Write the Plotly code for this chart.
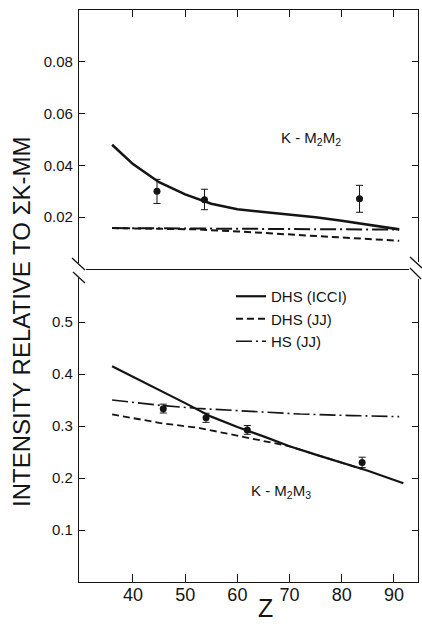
import plotly.graph_objects as go

# ---------------- data ----------------
# Top panel: K - M2M2
z_top_icci = [36, 40, 45, 50, 55, 60, 65, 70, 75, 80, 85, 91]
y_top_icci = [0.048, 0.0405, 0.0335, 0.0288, 0.0252, 0.0231, 0.0220, 0.0210, 0.0200, 0.0186, 0.0170, 0.0153]
z_top_jj = [36, 45, 52, 60, 70, 80, 91]
y_top_jj = [0.0158, 0.0156, 0.0153, 0.0145, 0.0134, 0.0122, 0.0109]
z_top_hs = [36, 60, 91]
y_top_hs = [0.0158, 0.0156, 0.0152]
z_top_exp = [44.6, 53.7, 83.4]
y_top_exp = [0.0300, 0.0267, 0.0271]
e_top_plus = [0.0046, 0.0041, 0.0052]
e_top_minus = [0.0047, 0.0038, 0.0052]

# Bottom panel: K - M2M3
z_bot_icci = [36, 40, 45, 50, 55, 60, 65, 70, 75, 80, 85, 91.8]
y_bot_icci = [0.415, 0.395, 0.369, 0.344, 0.318, 0.298, 0.280, 0.261, 0.245, 0.230, 0.214, 0.190]
z_bot_jj = [36, 45, 52.8, 60, 65, 70, 75, 80, 84]
y_bot_jj = [0.3225, 0.306, 0.296, 0.281, 0.271, 0.261, 0.245, 0.230, 0.217]
z_bot_hs = [36, 45, 52, 62, 72, 82, 91]
y_bot_hs = [0.350, 0.340, 0.334, 0.328, 0.323, 0.320, 0.318]
z_bot_exp = [45.8, 54.0, 61.9, 83.9]
y_bot_exp = [0.333, 0.316, 0.2925, 0.230]
e_bot_plus = [0.009, 0.0085, 0.0085, 0.010]
e_bot_minus = [0.008, 0.009, 0.0085, 0.010]

x_ticks = [40, 50, 60, 70, 80, 90]
top_ticks = [0.02, 0.04, 0.06, 0.08]
top_tick_labels = ["0.02", "0.04", "0.06", "0.08"]
bot_ticks = [0.1, 0.2, 0.3, 0.4, 0.5]
bot_tick_labels = ["0.1", "0.2", "0.3", "0.4", "0.5"]
legend_names = ["DHS (ICCI)", "DHS (JJ)", "HS (JJ)"]

# ---------------- figure ----------------
W, H = 422, 624
ML, MR, MT, MB = 79, 4, 10, 42
PW, PH = W - ML - MR, H - MT - MB
INK = "#141414"
FONT = "Liberation Sans, Arial, sans-serif"

def px(x):
    return (x - ML) / PW

def py(y):
    return (H - MB - y) / PH

DASH = "7px,4px"
DASHDOT = "16px,4px,2px,4px"

fig = go.Figure()

# top panel traces (xaxis2 / yaxis2)
fig.add_trace(go.Scatter(x=z_top_icci, y=y_top_icci, mode="lines", xaxis="x2", yaxis="y2",
                         line=dict(color=INK, width=2.6), showlegend=False))
fig.add_trace(go.Scatter(x=z_top_jj, y=y_top_jj, mode="lines", xaxis="x2", yaxis="y2",
                         line=dict(color=INK, width=2, dash=DASH), showlegend=False))
fig.add_trace(go.Scatter(x=z_top_hs, y=y_top_hs, mode="lines", xaxis="x2", yaxis="y2",
                         line=dict(color=INK, width=2, dash=DASHDOT), showlegend=False))
fig.add_trace(go.Scatter(x=z_top_exp, y=y_top_exp, mode="markers", xaxis="x2", yaxis="y2",
                         marker=dict(color=INK, size=7),
                         error_y=dict(type="data", array=e_top_plus, arrayminus=e_top_minus,
                                      color=INK, thickness=1, width=3.5),
                         showlegend=False))

# bottom panel traces
fig.add_trace(go.Scatter(x=z_bot_icci, y=y_bot_icci, mode="lines", name=legend_names[0],
                         line=dict(color=INK, width=2.2)))
fig.add_trace(go.Scatter(x=z_bot_jj, y=y_bot_jj, mode="lines", name=legend_names[1],
                         line=dict(color=INK, width=1.8, dash=DASH)))
fig.add_trace(go.Scatter(x=z_bot_hs, y=y_bot_hs, mode="lines", name=legend_names[2],
                         line=dict(color=INK, width=1.6, dash=DASHDOT)))
fig.add_trace(go.Scatter(x=z_bot_exp, y=y_bot_exp, mode="markers",
                         marker=dict(color=INK, size=7),
                         error_y=dict(type="data", array=e_bot_plus, arrayminus=e_bot_minus,
                                      color=INK, thickness=1, width=3.5),
                         showlegend=False))

xr = [29.66, 94.6]
axis_common = dict(showgrid=False, zeroline=False, showline=True, linecolor=INK, linewidth=1.3,
                   ticks="inside", tickcolor=INK, tickwidth=1, automargin=False)

fig.update_layout(
    template="none",
    width=W, height=H,
    margin=dict(l=ML, r=MR, t=MT, b=MB, autoexpand=False),
    paper_bgcolor="white", plot_bgcolor="white",
    font=dict(family=FONT, color=INK),
    xaxis=dict(domain=[0, 1], range=xr, anchor="y", tickvals=x_ticks, ticklen=8,
               tickfont=dict(size=18), ticklabelstandoff=-4, **axis_common),
    yaxis=dict(domain=[0, py(270)], range=[0, 0.6], anchor="x", tickvals=bot_ticks,
               ticktext=bot_tick_labels, ticklen=6, mirror="ticks", tickfont=dict(size=15),
               ticklabelstandoff=2, **axis_common),
    xaxis2=dict(domain=[0, 1], range=xr, anchor="y2", side="top", tickvals=x_ticks, ticklen=7,
                showticklabels=False, mirror=True, **axis_common),
    yaxis2=dict(domain=[py(269), 1], range=[0, 0.1], anchor="x2", tickvals=top_ticks,
                ticktext=top_tick_labels, ticklen=6, mirror="ticks", tickfont=dict(size=15),
                ticklabelstandoff=2, **axis_common),
    showlegend=True,
    legend=dict(x=px(231), y=py(280), xanchor="left", yanchor="top", bgcolor="rgba(0,0,0,0)",
                font=dict(size=15, color=INK), itemwidth=30, tracegroupgap=0, borderwidth=0),
)

annotations = [
    dict(text="K - M<sub>2</sub>M<sub>2</sub>", x=74.1, y=0.0505, xref="x2", yref="y2",
         xanchor="center", yanchor="middle", showarrow=False, font=dict(size=15, color=INK)),
    dict(text="K - M<sub>2</sub>M<sub>3</sub>", x=68.4, y=0.174, xref="x", yref="y",
         xanchor="center", yanchor="middle", showarrow=False, font=dict(size=15, color=INK)),
    dict(text="INTENSITY RELATIVE TO \u03a3K-MM", x=px(21), y=py(322), xref="paper", yref="paper",
         xanchor="center", yanchor="middle", textangle=-90, showarrow=False,
         font=dict(size=24, color=INK)),
    dict(text="Z", x=px(265), y=py(608), xref="paper", yref="paper",
         xanchor="center", yanchor="middle", showarrow=False, font=dict(size=25, color=INK)),
]
fig.update_layout(annotations=annotations)

# axis break decorations
shapes = [
    dict(type="rect", xref="paper", yref="paper", x0=px(70), x1=px(86), y0=py(278), y1=py(263),
         fillcolor="white", line=dict(width=0), layer="above"),
    dict(type="rect", xref="paper", yref="paper", x0=px(409), x1=px(423), y0=py(279), y1=py(262),
         fillcolor="white", line=dict(width=0), layer="above"),
]
for (x0, y0, x1, y1) in [(72, 258, 85, 270), (73, 272, 85, 283),
                         (410, 257, 422, 268), (410, 268, 421, 279)]:
    shapes.append(dict(type="line", xref="paper", yref="paper", x0=px(x0), y0=py(y0),
                       x1=px(x1), y1=py(y1), line=dict(color=INK, width=1.3), layer="above"))
fig.update_layout(shapes=shapes)

fig.write_html("out.html", config={"displayModeBar": False},
               post_script="document.body.style.margin='0';document.body.style.overflow='hidden';")
